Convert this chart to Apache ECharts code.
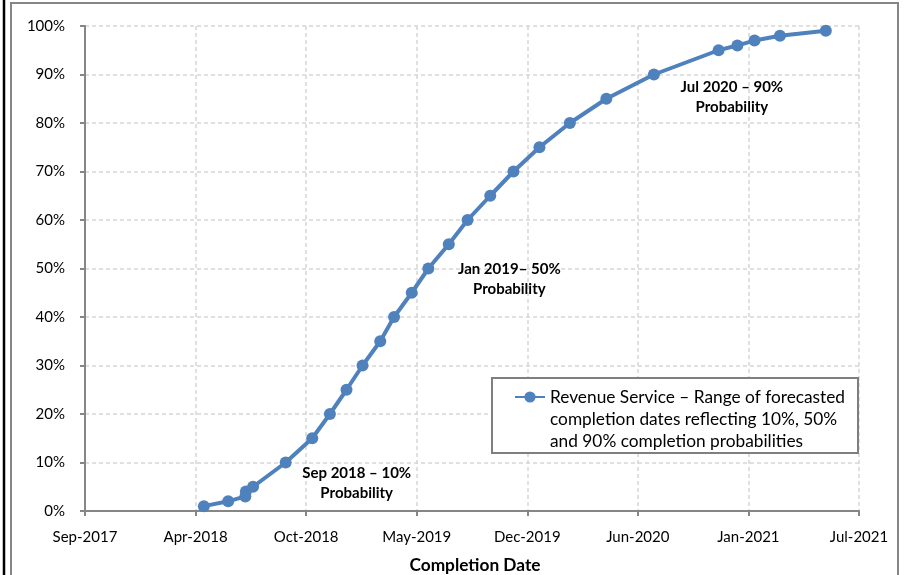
<!DOCTYPE html>
<html>
<head>
<meta charset="utf-8">
<script src="https://cdn.jsdelivr.net/npm/echarts@6/dist/echarts.min.js"></script>
<style>
html,body{margin:0;padding:0;background:#fff;}
#chart{width:905px;height:575px;}
</style>
</head>
<body>
<div id="chart"></div>
<script>
// Completion dates and cumulative probabilities (%)
var completionDates = [
  '2018-04-25','2018-06-08','2018-07-09','2018-07-10','2018-07-23',
  '2018-09-20','2018-11-07','2018-12-09','2019-01-08','2019-02-06',
  '2019-03-10','2019-04-04','2019-05-06','2019-06-05','2019-07-12',
  '2019-08-15','2019-09-25','2019-11-06','2019-12-23','2020-02-16',
  '2020-04-22','2020-07-17','2020-11-11','2020-12-15','2021-01-15',
  '2021-03-02','2021-05-24'
];
var probabilities = [1,2,3,4,5,10,15,20,25,30,35,40,45,50,55,60,65,70,75,80,85,90,95,96,97,98,99];
var seriesName = 'Revenue Service \u2013 Range of forecasted\ncompletion dates reflecting 10%, 50%\nand 90% completion probabilities';
var annotations = {
  10: 'Sep 2018 \u2013 10%\nProbability',
  50: 'Jan 2019\u2013 50%\nProbability',
  90: 'Jul 2020 \u2013 90%\nProbability'
};
var annotationOffsets = { 10: [71, 21], 50: [81, 11], 90: [78, 23] };
var xAxisMin = 43000, xAxisMax = 44400, xAxisStep = 200; // day serials
var monthNames = ['Jan','Feb','Mar','Apr','May','Jun','Jul','Aug','Sep','Oct','Nov','Dec'];

function toSerial(s) {
  var p = s.split('-');
  return Date.UTC(+p[0], +p[1] - 1, +p[2]) / 86400000 + 25569;
}
function fmtSerial(v) {
  var d = new Date((v - 25569) * 86400000);
  return monthNames[d.getUTCMonth()] + '-' + d.getUTCFullYear();
}

var data = completionDates.map(function (d, i) {
  var item = { value: [toSerial(d), probabilities[i]] };
  if (annotations[probabilities[i]]) {
    item.label = {
      show: true,
      position: 'inside',
      offset: annotationOffsets[probabilities[i]],
      formatter: annotations[probabilities[i]],
      fontFamily: 'Lato',
      fontWeight: 'bold',
      fontSize: 15,
      lineHeight: 20,
      color: '#000',
      align: 'center',
      verticalAlign: 'middle'
    };
  }
  return item;
});

var chart = echarts.init(document.getElementById('chart'));
chart.setOption({
  animation: false,
  backgroundColor: '#fff',
  textStyle: { fontFamily: 'Lato' },
  graphic: [
    { type: 'rect', z: 0, silent: true, shape: { x: 11, y: 3, width: 887, height: 600 },
      style: { fill: 'none', stroke: '#868686', lineWidth: 2 } },
    { type: 'line', z: 0, silent: true, shape: { x1: 4, y1: 0, x2: 4, y2: 575 },
      style: { stroke: '#000', lineWidth: 2.5 } },
    { type: 'rect', z: 5, silent: true, shape: { x: 492, y: 378, width: 366, height: 75 },
      style: { fill: '#fff', stroke: '#7f7f7f', lineWidth: 2 } }
  ],
  grid: { left: 85, top: 26, right: 46, bottom: 64, containLabel: false, outerBoundsMode: 'none' },
  legend: {
    z: 10,
    left: 514,
    top: 342,
    padding: 0,
    itemWidth: 30,
    itemHeight: 14,
    formatter: function (name) { return '\n\n' + name; },
    textStyle: { fontFamily: 'Lato', fontSize: 17.3, lineHeight: 22, color: '#000' },
    data: [seriesName]
  },
  xAxis: {
    type: 'value',
    min: xAxisMin,
    max: xAxisMax,
    interval: xAxisStep,
    name: 'Completion Date',
    nameLocation: 'middle',
    nameGap: 46,
    nameTextStyle: { fontFamily: 'Lato', fontWeight: 'bold', fontSize: 17.3, color: '#000', padding: [0, 0, 0, 6] },
    axisLine: { lineStyle: { color: '#868686', width: 2 } },
    axisTick: { show: true, length: 5, lineStyle: { color: '#868686', width: 2 } },
    axisLabel: { formatter: fmtSerial, fontSize: 15, color: '#000', margin: 19, fontFamily: 'Lato' },
    splitLine: { show: true, lineStyle: { color: '#d6d6d6', width: 1.5, type: [4, 3] } }
  },
  yAxis: {
    type: 'value',
    min: 0,
    max: 100,
    interval: 10,
    axisLine: { show: true, lineStyle: { color: '#868686', width: 2 } },
    axisTick: { show: true, length: 5, lineStyle: { color: '#868686', width: 2 } },
    axisLabel: { formatter: '{value}%', fontSize: 15, color: '#000', margin: 20, fontFamily: 'Lato' },
    splitLine: { show: true, lineStyle: { color: '#d6d6d6', width: 1.5, type: [4, 3] } }
  },
  series: [{
    name: seriesName,
    type: 'line',
    data: data,
    symbol: 'circle',
    symbolSize: 12,
    showSymbol: true,
    color: '#4f81bd',
    lineStyle: { color: '#4f81bd', width: 4 },
    itemStyle: { color: '#4f81bd' },
    z: 3
  }]
});
</script>
</body>
</html>
